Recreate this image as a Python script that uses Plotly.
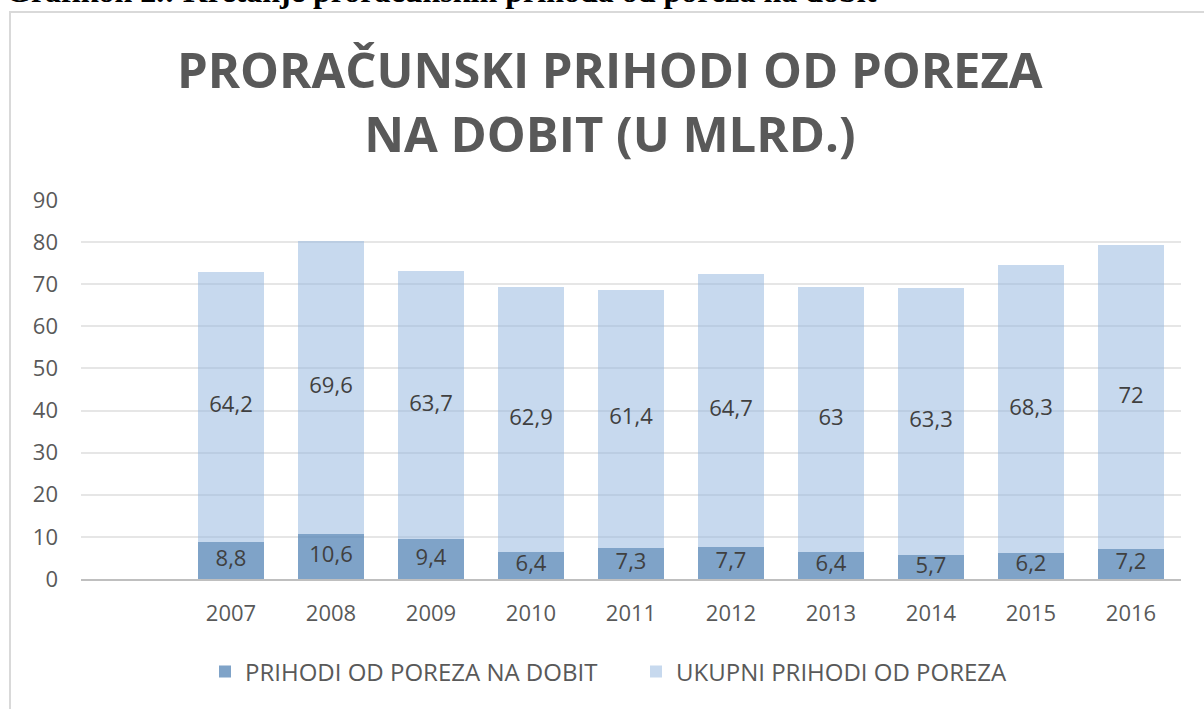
import plotly.graph_objects as go

categories = [" ", "2007", "2008", "2009", "2010", "2011", "2012", "2013", "2014", "2015", "2016"]
years = categories[1:]
dobit = [8.8, 10.6, 9.4, 6.4, 7.3, 7.7, 6.4, 5.7, 6.2, 7.2]
ukupni = [64.2, 69.6, 63.7, 62.9, 61.4, 64.7, 63.0, 63.3, 68.3, 72.0]
y_ticks = [0, 10, 20, 30, 40, 50, 60, 70, 80, 90]

def fmt(v):
    s = f"{v:g}"
    return s.replace(".", ",")

DARK = "rgba(84,132,182,0.75)"
LIGHT = "rgba(143,180,222,0.5)"
TXT = "#404040"
GRAY = "#595959"
FONT = "Open Sans"

fig = go.Figure()
fig.add_trace(go.Bar(x=years, y=dobit, name="PRIHODI OD POREZA NA DOBIT",
                     marker=dict(color=DARK, line=dict(width=0)), hoverinfo="skip"))
fig.add_trace(go.Bar(x=years, y=ukupni, name="UKUPNI PRIHODI OD POREZA",
                     marker=dict(color=LIGHT, line=dict(width=0)), hoverinfo="skip"))

# data labels (centered in each segment)
fig.add_trace(go.Scatter(x=years, y=[d / 2 for d in dobit], mode="text",
                         text=[fmt(v) for v in dobit], textfont=dict(size=22, color=TXT, family=FONT),
                         showlegend=False, hoverinfo="skip"))
fig.add_trace(go.Scatter(x=years, y=[d + u / 2 for d, u in zip(dobit, ukupni)], mode="text",
                         text=[fmt(v) for v in ukupni], textfont=dict(size=22, color=TXT, family=FONT),
                         showlegend=False, hoverinfo="skip"))

fig.update_layout(
    width=1204, height=709,
    barmode="stack", bargap=0.34,
    paper_bgcolor="white", plot_bgcolor="white",
    margin=dict(l=81, r=23, t=200, b=130, autoexpand=False),
    font=dict(family=FONT, color=GRAY),
    showlegend=True,
    legend=dict(orientation="h", x=(205 - 81) / 1100, xanchor="left", y=-0.245, yanchor="middle",
                font=dict(size=24, color=GRAY, family=FONT), traceorder="normal",
                entrywidth=386, entrywidthmode="pixels", itemwidth=30),
    xaxis=dict(type="category", categoryorder="array", categoryarray=categories,
               range=[-0.5, 10.5], showgrid=False, showline=True, linecolor="#BFBFBF",
               linewidth=2, ticks="", tickfont=dict(size=22, color=GRAY), ticklabelstandoff=14,
               fixedrange=True),
    yaxis=dict(range=[0, 90], tickvals=y_ticks, showgrid=True, gridcolor="#E6E6E6",
               gridwidth=2, zeroline=False, showline=False, ticks="",
               tickfont=dict(size=22, color=GRAY), ticklabelstandoff=22, fixedrange=True),
    annotations=[
        dict(text="PRORAČUNSKI PRIHODI OD POREZA<br>NA DOBIT (U MLRD.)", xref="paper", yref="paper",
             x=(610 - 81) / 1100, y=(579 - 101) / 379, xanchor="center", yanchor="middle",
             showarrow=False, font=dict(size=49, color=GRAY, family=FONT, weight="bold")),
        dict(text="Grafikon 2.: Kretanje proračunskih prihoda od poreza na dobit",
             xref="paper", yref="paper", x=(4 - 81) / 1100, y=(579 - 11) / 379,
             xanchor="left", yanchor="bottom", showarrow=False,
             font=dict(size=32, color="black", family="Liberation Serif", weight="bold")),
    ],
    shapes=[
        dict(type="rect", xref="paper", yref="paper",
             x0=(10 - 81) / 1100, x1=(1215 - 81) / 1100,
             y0=(579 - 720) / 379, y1=(579 - 12) / 379,
             line=dict(color="#D9D9D9", width=2), fillcolor="rgba(0,0,0,0)", layer="below"),
    ],
)

fig.write_html("out.html", config={"displayModeBar": False},
               post_script="document.body.style.margin='0';document.body.style.overflow='hidden';")
